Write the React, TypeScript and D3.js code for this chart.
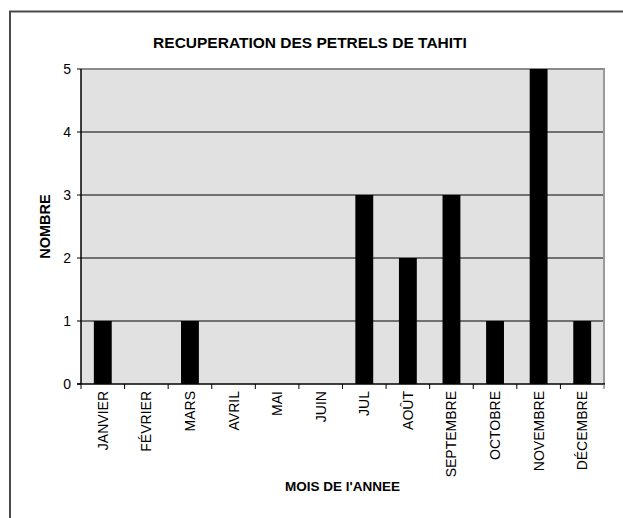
import React from 'react';
import * as d3 from 'd3';

// Mois et nombre de pétrels récupérés
const months = ['JANVIER', 'FÉVRIER', 'MARS', 'AVRIL', 'MAI', 'JUIN', 'JUL', 'AOÛT', 'SEPTEMBRE', 'OCTOBRE', 'NOVEMBRE', 'DÉCEMBRE'];
const counts = [1, 0, 1, 0, 0, 0, 3, 2, 3, 1, 5, 1];
const yTicks = [0, 1, 2, 3, 4, 5];

const W = 623;
const H = 518;
const FONT = '"Liberation Sans", Arial, sans-serif';

const App: React.FC = () => {
  const margin = { left: 81, right: 604, top: 69, bottom: 384 };
  const x = d3.scaleBand<string>().domain(months).range([margin.left, margin.right]).padding(0);
  const y = d3.scaleLinear().domain([0, 5]).range([margin.bottom, margin.top]);
  const step = x.step();
  const barW = step * 0.41;
  const boundaries = d3.range(months.length + 1).map(i => margin.left + i * step);

  return <svg width={W} height={H} style={{ position: 'fixed', left: 0, top: 0, background: '#fff' }} fontFamily={FONT}>
      {/* chart area border, runs off the page on the right and bottom */}
      <rect x={10} y={11.5} width={700} height={600} fill="#fff" stroke="#4a4a4a" strokeWidth={2} />
      <text x={310} y={47.5} textAnchor="middle" fontSize={15.5} fontWeight="bold" fill="#000">RECUPERATION DES PETRELS DE TAHITI</text>

      {/* plot area */}
      <rect x={margin.left} y={margin.top} width={margin.right - margin.left} height={margin.bottom - margin.top} fill="#e1e1e1" />
      <line x1={margin.left} x2={margin.right + 1} y1={margin.top} y2={margin.top} stroke="#8c8c8c" strokeWidth={2} />
      <line x1={margin.right} x2={margin.right} y1={margin.top} y2={margin.bottom} stroke="#9a9a9a" strokeWidth={2} />
      {yTicks.filter(t => t > 0 && t < 5).map(t => <line key={t} x1={margin.left} x2={margin.right - 1} y1={y(t)} y2={y(t)} stroke="#000" strokeWidth={1} />)}

      {months.map((m, i) => <rect key={m} x={(x(m) || 0) + step / 2 - barW / 2} width={barW} y={y(counts[i])} height={y(0) - y(counts[i])} fill="#000" />)}

      {/* axes */}
      <line x1={margin.left} x2={margin.left} y1={margin.top} y2={margin.bottom} stroke="#000" strokeWidth={1.5} />
      <line x1={margin.left - 4} x2={margin.right + 1} y1={margin.bottom} y2={margin.bottom} stroke="#000" strokeWidth={1.5} />
      {yTicks.map(t => <g key={t}>
          <line x1={margin.left - 4} x2={margin.left} y1={y(t)} y2={y(t)} stroke="#000" strokeWidth={1} />
          <text x={71} y={y(t)} dy="0.35em" textAnchor="end" fontSize={14} fill="#000">{t}</text>
        </g>)}
      {boundaries.map((b, i) => <line key={i} x1={b} x2={b} y1={margin.bottom} y2={margin.bottom + 5} stroke={i === months.length ? '#555' : '#000'} strokeWidth={1} />)}
      {months.map(m => {
        const cx = (x(m) || 0) + step / 2 + 5;
        return <text key={m} transform={`translate(${cx},${391}) rotate(-90)`} textAnchor="end" fontSize={14} fill="#000">{m}</text>;
      })}

      <text x={342.5} y={491} textAnchor="middle" fontSize={13.5} fontWeight="bold" fill="#000">MOIS DE l'ANNEE</text>
      <text transform={`translate(49.5,${(margin.top + margin.bottom) / 2}) rotate(-90)`} textAnchor="middle" fontSize={14.5} fontWeight="bold" fill="#000">NOMBRE</text>
    </svg>;
};

export default App;
